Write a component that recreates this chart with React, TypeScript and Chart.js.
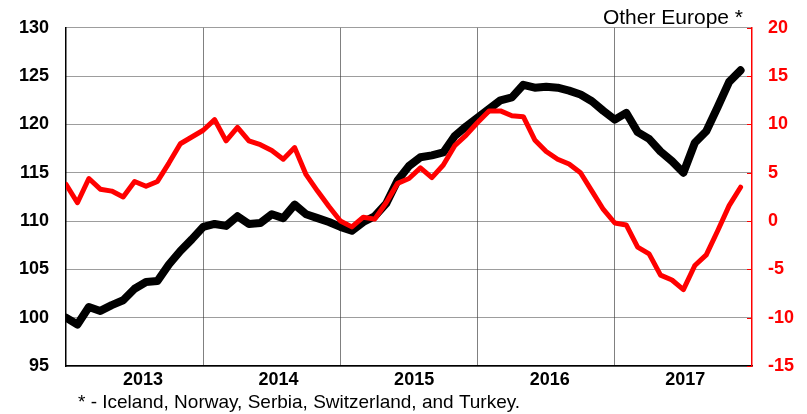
import React, { useEffect, useRef } from "react";
import { Chart, registerables } from "chart.js";

Chart.register(...registerables);

// ---- data ----
const YEARS = ["2013", "2014", "2015", "2016", "2017"];
const MONTHS_PER_YEAR = 12;

// index level (left axis)
const INDEX_LEVEL = [
  100.0, 99.3, 101.1, 100.7, 101.3, 101.8, 103.0, 103.7, 103.8, 105.5, 106.9, 108.1,
  109.4, 109.7, 109.5, 110.5, 109.7, 109.8, 110.7, 110.3, 111.7, 110.7, 110.3, 109.9,
  109.4, 109.0, 109.9, 110.5, 111.8, 114.2, 115.7, 116.6, 116.8, 117.1, 118.8, 119.8,
  120.7, 121.6, 122.5, 122.8, 124.1, 123.8, 123.9, 123.8, 123.5, 123.1, 122.4, 121.4,
  120.5, 121.2, 119.2, 118.5, 117.2, 116.2, 115.0, 118.1, 119.3, 121.8, 124.4, 125.6,
];

// y/y change, % (right axis)
const YOY_CHANGE = [
  3.8, 1.9, 4.4, 3.3, 3.1, 2.5, 4.1, 3.6, 4.1, 6.0, 8.0, 8.7,
  9.4, 10.5, 8.3, 9.7, 8.3, 7.9, 7.3, 6.4, 7.6, 4.8, 3.1, 1.5,
  0.0, -0.6, 0.4, 0.2, 1.9, 3.9, 4.4, 5.5, 4.5, 5.8, 7.8, 8.9,
  10.2, 11.4, 11.4, 10.9, 10.8, 8.4, 7.2, 6.4, 5.9, 5.0, 3.1, 1.2,
  -0.2, -0.4, -2.7, -3.4, -5.6, -6.1, -7.1, -4.6, -3.5, -1.0, 1.6, 3.5,
];

const LEFT_TICKS = [95, 100, 105, 110, 115, 120, 125, 130];
const RIGHT_TICKS = [-15, -10, -5, 0, 5, 10, 15, 20];

const TITLE = "Other Europe *";
const FOOTNOTE = "* - Iceland, Norway, Serbia, Switzerland, and Turkey.";

const FONT = '"Liberation Sans", Arial, Helvetica, sans-serif';

export default function App() {
  const canvasRef = useRef<HTMLCanvasElement | null>(null);

  useEffect(() => {
    const canvas = canvasRef.current;
    if (!canvas) return;

    const total = INDEX_LEVEL.length;
    const gridVals: number[] = [];
    for (let k = 1; k < YEARS.length; k++) gridVals.push(k * MONTHS_PER_YEAR);
    // label centres (in month-index units) as measured on the reference axis
    const labelVals = YEARS.map((_, k) => 6.73 + 11.86 * k);
    const labelMap = new Map<number, string>();
    labelVals.forEach((v, k) => labelMap.set(v, YEARS[k]));

    const texts = {
      id: "texts",
      afterDraw(chart: any) {
        const { ctx } = chart;
        ctx.save();
        // inner red ticks on the right axis
        const y2 = chart.scales.y2;
        const right = chart.chartArea.right;
        ctx.strokeStyle = "#ff0000";
        ctx.lineWidth = 1;
        RIGHT_TICKS.forEach((t) => {
          const py = Math.round(y2.getPixelForValue(t)) + 0.5;
          ctx.beginPath();
          ctx.moveTo(right - 5, py);
          ctx.lineTo(right, py);
          ctx.stroke();
        });
        ctx.fillStyle = "#000";
        ctx.textBaseline = "alphabetic";
        ctx.font = `21px ${FONT}`;
        ctx.textAlign = "right";
        ctx.fillText(TITLE, 743, 24);
        ctx.font = `19px ${FONT}`;
        ctx.textAlign = "left";
        ctx.fillText(FOOTNOTE, 78, 407.5);
        ctx.restore();
      },
    };

    const chart = new Chart(canvas, {
      type: "line",
      data: {
        datasets: [
          {
            label: "y/y",
            data: YOY_CHANGE.map((v, i) => ({ x: i, y: v })),
            yAxisID: "y2",
            borderColor: "#ff0000",
            borderWidth: 5,
            pointRadius: 0,
            tension: 0,
            borderJoinStyle: "round",
            borderCapStyle: "round",
            order: 0,
          },
          {
            label: "index",
            data: INDEX_LEVEL.map((v, i) => ({ x: i, y: v })),
            yAxisID: "y",
            borderColor: "#000000",
            borderWidth: 8,
            pointRadius: 0,
            tension: 0,
            borderJoinStyle: "round",
            borderCapStyle: "round",
            order: 1,
          },
        ],
      },
      options: {
        responsive: false,
        animation: false,
        devicePixelRatio: 1,
        layout: { padding: { top: 26, left: 0, right: 0, bottom: 0 } },
        plugins: {
          legend: { display: false },
          tooltip: { enabled: false },
          title: { display: false },
        },
        scales: {
          x: {
            type: "linear",
            position: "bottom",
            min: 0,
            max: total,
            afterBuildTicks: (s: any) => {
              const vals = [...gridVals, ...labelVals].sort((a, b) => a - b);
              s.ticks = vals.map((v) => ({ value: v }));
            },
            afterFit: (s: any) => {
              s.height = 48;
            },
            ticks: {
              autoSkip: false,
              maxRotation: 0,
              minRotation: 0,
              padding: 3,
              color: "#000",
              font: { family: FONT, size: 18, weight: "bold" },
              callback: (v: any) => labelMap.get(v as number) ?? "",
            },
            grid: {
              drawTicks: false,
              lineWidth: 1,
              color: (ctx: any) =>
                ctx.tick && gridVals.includes(ctx.tick.value) ? "#808080" : "rgba(0,0,0,0)",
            },
            border: { color: "#000", width: 1.5 },
          },
          y: {
            position: "left",
            min: 95,
            max: 130,
            afterBuildTicks: (s: any) => {
              s.ticks = LEFT_TICKS.map((v) => ({ value: v }));
            },
            afterFit: (s: any) => {
              s.width = 66;
            },
            ticks: {
              padding: 17,
              color: "#000",
              font: { family: FONT, size: 18, weight: "bold" },
            },
            grid: { drawTicks: false, color: "#3a3a3a", lineWidth: 1 },
            border: { color: "#000", width: 1.5, dash: [1, 1] },
          },
          y2: {
            position: "right",
            min: -15,
            max: 20,
            afterBuildTicks: (s: any) => {
              s.ticks = RIGHT_TICKS.map((v) => ({ value: v }));
            },
            afterFit: (s: any) => {
              s.width = 55;
            },
            ticks: {
              padding: 16,
              color: "#ff0000",
              font: { family: FONT, size: 18, weight: "bold" },
            },
            grid: { drawTicks: false, drawOnChartArea: false },
            border: { color: "#ff0000", width: 1.5 },
          },
        },
      },
      plugins: [texts],
    });

    return () => {
      chart.destroy();
    };
  }, []);

  return (
    <div
      style={{
        position: "fixed",
        left: 0,
        top: 0,
        width: 807,
        height: 414,
        background: "#fff",
      }}
    >
      <canvas ref={canvasRef} width={807} height={414} style={{ display: "block" }} />
    </div>
  );
}
